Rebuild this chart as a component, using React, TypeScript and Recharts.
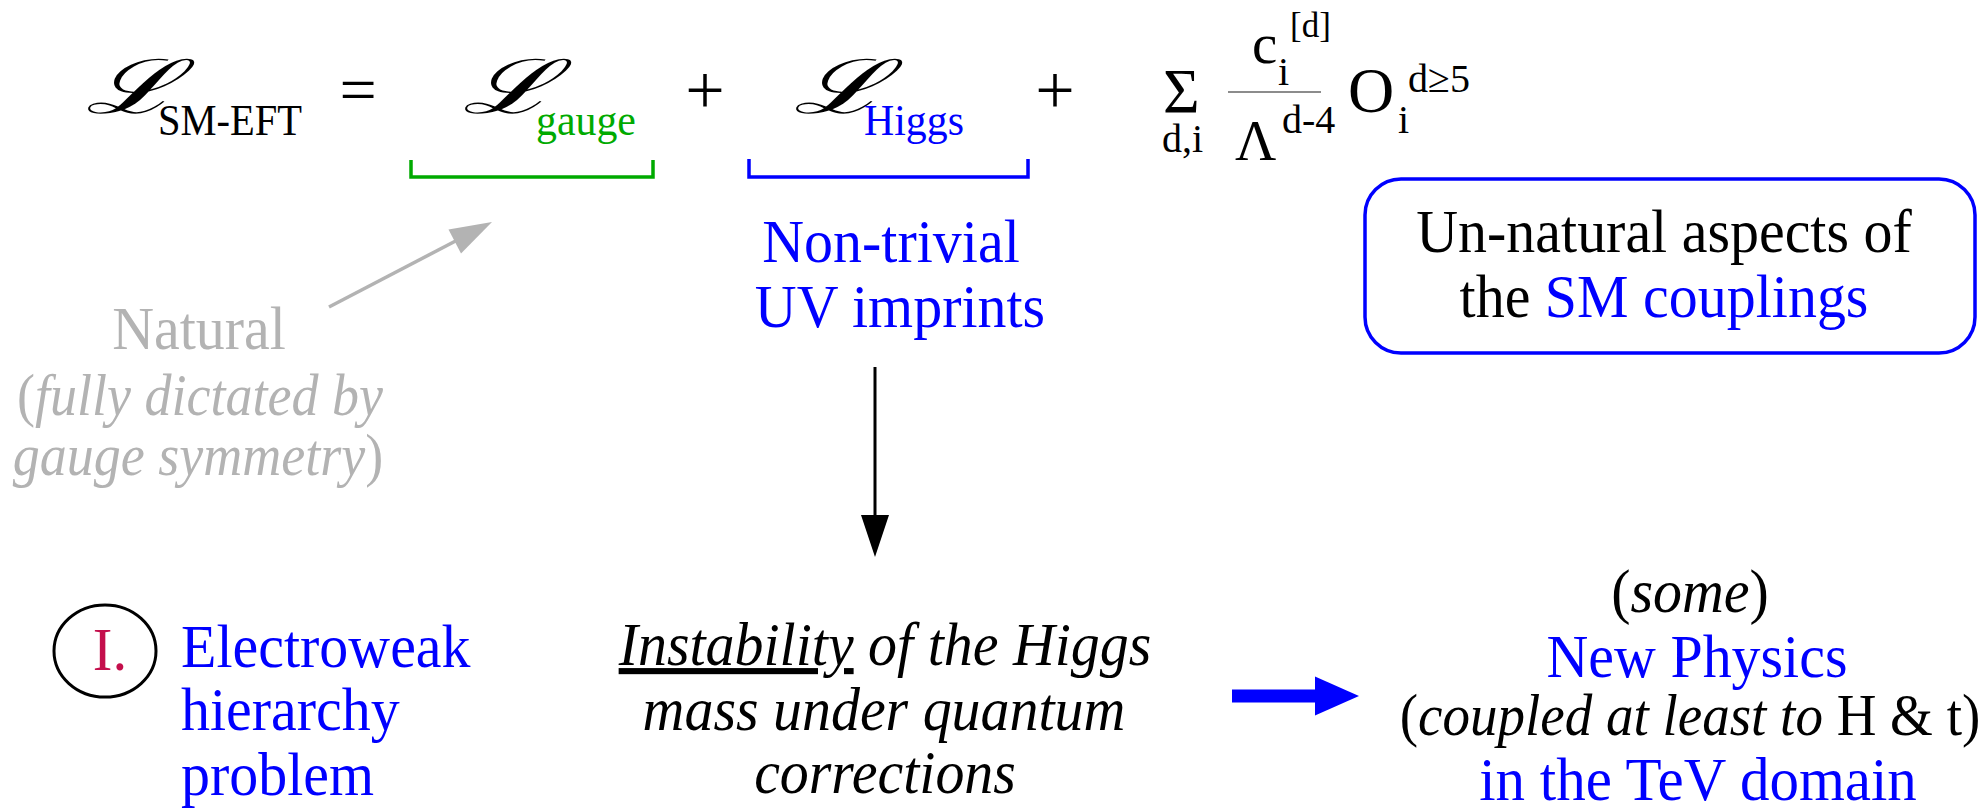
import React from 'react';
import { ComposedChart, XAxis, YAxis, ReferenceDot, ReferenceLine, ReferenceArea } from 'recharts';

const W = 1985;
const H = 808;

const BLUE = '#0000ff';
const GREEN = '#00aa00';
const GRAY = '#b3b3b3';
const CRIMSON = '#c40f4c';
const BLACK = '#000000';
const SERIF = 'Liberation Serif';
const SCRIPT = 'DejaVu Serif';

type Part = { t: string; i?: boolean; c?: string; u?: boolean };
type TextItem = {
  x: number;
  y: number;
  size: number;
  anchor?: 'start' | 'middle' | 'end';
  color?: string;
  parts: Part[];
  font?: string;
  sx?: number;
};

// ---- equation: L_SM-EFT = L_gauge + L_Higgs + sum c/Λ O ----
const scriptL = 'ℒ';
const scriptLPositions = [85, 462, 793];
const eqSubs: TextItem[] = [
  { x: 158, y: 135, size: 45, sx: 0.9, parts: [{ t: 'SM-EFT' }] },
  { x: 536, y: 135, size: 45, sx: 0.93, color: GREEN, parts: [{ t: 'gauge' }] },
  { x: 864, y: 135, size: 45, sx: 0.93, color: BLUE, parts: [{ t: 'Higgs' }] },
];
const eqOps: TextItem[] = [
  { x: 358, y: 112, size: 66, anchor: 'middle', parts: [{ t: '=' }] },
  { x: 705, y: 114, size: 70, anchor: 'middle', parts: [{ t: '+' }] },
  { x: 1055, y: 114, size: 70, anchor: 'middle', parts: [{ t: '+' }] },
];
const eqSum: TextItem[] = [
  { x: 1163, y: 113, size: 63, parts: [{ t: 'Σ' }] },
  { x: 1162, y: 152, size: 40, parts: [{ t: 'd,i' }] },
  { x: 1252, y: 63, size: 57, parts: [{ t: 'c' }] },
  { x: 1278, y: 85, size: 40, parts: [{ t: 'i' }] },
  { x: 1290, y: 37, size: 35, parts: [{ t: '[d]' }] },
  { x: 1235, y: 160, size: 57, parts: [{ t: 'Λ' }] },
  { x: 1282, y: 133, size: 40, parts: [{ t: 'd-4' }] },
  { x: 1348, y: 112, size: 64, parts: [{ t: 'O' }] },
  { x: 1398, y: 133, size: 40, parts: [{ t: 'i' }] },
  { x: 1408, y: 92, size: 40, parts: [{ t: 'd≥5' }] },
];

// ---- annotations ----
const naturalLines: TextItem[] = [
  { x: 199, y: 349, size: 61, sx: 0.95, anchor: 'middle', color: GRAY, parts: [{ t: 'Natural' }] },
  { x: 200, y: 415, size: 60, sx: 0.9, anchor: 'middle', color: GRAY, parts: [{ t: '(' }, { t: 'fully dictated by', i: true }] },
  { x: 198, y: 475, size: 60, sx: 0.9, anchor: 'middle', color: GRAY, parts: [{ t: 'gauge symmetry', i: true }, { t: ')' }] },
];
const uvLines: TextItem[] = [
  { x: 891, y: 262, size: 61, sx: 0.95, anchor: 'middle', color: BLUE, parts: [{ t: 'Non-trivial' }] },
  { x: 900, y: 327, size: 61, sx: 0.95, anchor: 'middle', color: BLUE, parts: [{ t: 'UV imprints' }] },
];
const boxLines: TextItem[] = [
  { x: 1664, y: 252, size: 61, sx: 0.95, anchor: 'middle', parts: [{ t: 'Un-natural aspects of' }] },
  { x: 1664, y: 317, size: 61, sx: 0.95, anchor: 'middle', parts: [{ t: 'the ' }, { t: 'SM couplings', c: BLUE }] },
];
const problemLines: TextItem[] = [
  { x: 110, y: 670, size: 62, sx: 0.95, anchor: 'middle', color: CRIMSON, parts: [{ t: 'I.' }] },
  { x: 181, y: 667, size: 61, sx: 0.95, color: BLUE, parts: [{ t: 'Electroweak' }] },
  { x: 181, y: 730, size: 61, sx: 0.95, color: BLUE, parts: [{ t: 'hierarchy' }] },
  { x: 181, y: 795, size: 61, sx: 0.95, color: BLUE, parts: [{ t: 'problem' }] },
];
const instabilityLines: TextItem[] = [
  { x: 885, y: 665, size: 61, sx: 0.95, anchor: 'middle', parts: [{ t: 'Instability', i: true, u: true }, { t: ' of the Higgs', i: true }] },
  { x: 884, y: 730, size: 61, sx: 0.95, anchor: 'middle', parts: [{ t: 'mass under quantum', i: true }] },
  { x: 885, y: 793, size: 61, sx: 0.95, anchor: 'middle', parts: [{ t: 'corrections', i: true }] },
];
const newPhysicsLines: TextItem[] = [
  { x: 1690, y: 612, size: 61, sx: 0.95, anchor: 'middle', parts: [{ t: '(' }, { t: 'some', i: true }, { t: ')' }] },
  { x: 1697, y: 677, size: 61, sx: 0.95, anchor: 'middle', color: BLUE, parts: [{ t: 'New Physics' }] },
  { x: 1690, y: 735, size: 60, sx: 0.917, anchor: 'middle', parts: [{ t: '(' }, { t: 'coupled at least to', i: true }, { t: ' H & t)' }] },
  { x: 1698, y: 800, size: 61, sx: 0.967, anchor: 'middle', color: BLUE, parts: [{ t: 'in the TeV domain' }] },
];

// ---- lines, arrows, brackets ----
const grayArrow = [{ x: 329, y: 307 }, { x: 492, y: 222 }];
const blackArrow = [{ x: 875, y: 367 }, { x: 875, y: 557 }];
const blueArrow = [{ x: 1232, y: 696 }, { x: 1359, y: 696 }];
const greenBracket = [{ x: 411, y: 160 }, { x: 653, y: 177 }];
const blueBracket = [{ x: 749, y: 159 }, { x: 1028, y: 177 }];
const fractionBar = [{ x: 1228, y: 92 }, { x: 1321, y: 92 }];
const couplingBox = { x1: 1365, x2: 1975, y1: 179, y2: 353 };
const romanCircle = { x: 105, y: 651 };

const renderText = (item: TextItem) => (p: any) => {
  const sx = item.sx ?? 1;
  const fam = item.font ?? SERIF;
  return (
    <g transform={`translate(${p.cx},${p.cy}) scale(${sx},1)`}>
      <text
        x={0}
        y={0}
        fontFamily={fam}
        fontSize={item.size}
        fill={item.color ?? BLACK}
        textAnchor={item.anchor ?? 'start'}
      >
        {item.parts.map((pt, k) => (
          <tspan
            key={k}
            fontFamily={fam}
            fontStyle={pt.i ? 'italic' : 'normal'}
            fill={pt.c ?? item.color ?? BLACK}
            textDecoration={pt.u ? 'underline' : undefined}
          >
            {pt.t}
          </tspan>
        ))}
      </text>
    </g>
  );
};

const arrowShape = (color: string, sw: number, headLen: number, headW: number) => (p: any) => {
  const { x1, y1, x2, y2 } = p;
  const dx = x2 - x1;
  const dy = y2 - y1;
  const L = Math.hypot(dx, dy) || 1;
  const ux = dx / L;
  const uy = dy / L;
  const bx = x2 - ux * headLen;
  const by = y2 - uy * headLen;
  const nx = -uy;
  const ny = ux;
  return (
    <g>
      <line x1={x1} y1={y1} x2={bx + ux * 2} y2={by + uy * 2} stroke={color} strokeWidth={sw} />
      <polygon
        points={`${x2},${y2} ${bx + (nx * headW) / 2},${by + (ny * headW) / 2} ${bx - (nx * headW) / 2},${by - (ny * headW) / 2}`}
        fill={color}
      />
    </g>
  );
};

const bracketShape = (color: string) => (p: any) => {
  const { x1, y1, x2, y2 } = p;
  return <path d={`M${x1},${y1} V${y2} H${x2} V${y1}`} fill="none" stroke={color} strokeWidth={3.5} />;
};

const textItems: TextItem[] = [
  ...eqSubs,
  ...eqOps,
  ...eqSum,
  ...naturalLines,
  ...uvLines,
  ...boxLines,
  ...problemLines,
  ...instabilityLines,
  ...newPhysicsLines,
];

export default function App() {
  return (
    <div style={{ position: 'absolute', left: 0, top: 0, width: W, height: H, background: '#fff' }}>
      <ComposedChart width={W} height={H} data={[]} margin={{ top: 0, right: 0, bottom: 0, left: 0 }}>
        <XAxis type="number" dataKey="x" domain={[0, W]} hide allowDataOverflow />
        <YAxis type="number" dataKey="y" domain={[0, H]} reversed hide allowDataOverflow />

        <ReferenceArea
          x1={couplingBox.x1}
          x2={couplingBox.x2}
          y1={couplingBox.y1}
          y2={couplingBox.y2}
          ifOverflow="visible"
          shape={(p: any) => (
            <rect x={p.x} y={p.y} width={p.width} height={p.height} rx={36} ry={36} fill="none" stroke={BLUE} strokeWidth={3.5} />
          )}
        />

        <ReferenceLine segment={greenBracket} ifOverflow="visible" shape={bracketShape(GREEN)} />
        <ReferenceLine segment={blueBracket} ifOverflow="visible" shape={bracketShape(BLUE)} />
        <ReferenceLine segment={fractionBar} ifOverflow="visible" stroke="#666" strokeWidth={1.5} />
        <ReferenceLine segment={grayArrow} ifOverflow="visible" shape={arrowShape(GRAY, 3.5, 42, 27)} />
        <ReferenceLine segment={blackArrow} ifOverflow="visible" shape={arrowShape(BLACK, 3, 42, 28)} />
        <ReferenceLine segment={blueArrow} ifOverflow="visible" shape={arrowShape(BLUE, 13, 44, 39)} />

        <ReferenceDot
          x={romanCircle.x}
          y={romanCircle.y}
          r={0}
          ifOverflow="visible"
          shape={(p: any) => <ellipse cx={p.cx} cy={p.cy} rx={51} ry={46} fill="none" stroke={BLACK} strokeWidth={3} />}
        />

        {scriptLPositions.map((x, k) => (
          <ReferenceDot
            key={`L${k}`}
            x={x}
            y={113}
            r={0}
            ifOverflow="visible"
            shape={renderText({ x, y: 113, size: 75, font: SCRIPT, sx: 1.5, parts: [{ t: scriptL, i: true }] })}
          />
        ))}

        {textItems.map((it, k) => (
          <ReferenceDot key={`t${k}`} x={it.x} y={it.y} r={0} ifOverflow="visible" shape={renderText(it)} />
        ))}
      </ComposedChart>
    </div>
  );
}
